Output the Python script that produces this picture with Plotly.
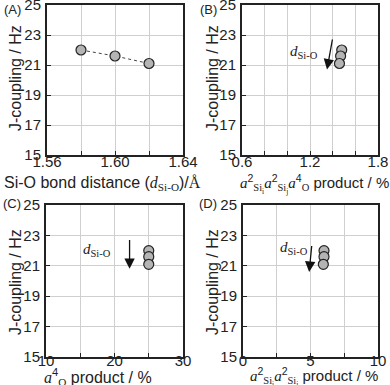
import plotly.graph_objects as go

# J-coupling values (Hz), same three structures in every panel
j_coupling = [22.0, 21.6, 21.1]
# (A) Si-O bond distance / Angstrom
bond_distance = [1.58, 1.60, 1.62]
# (B) a2Si_i a2Si_j a4O product / %
prod_b = [1.48, 1.47, 1.46]
# (C) a4O product / %
prod_c = [25.0, 25.0, 25.0]
# (D) a2Si_i a2Si_j product / %
prod_d = [6.0, 6.0, 5.95]

# arrows: (x_tail, y_tail, x_head, y_head) and label position
arrow_b = (1.40, 22.8, 1.35, 20.7)
arrow_c = (22.2, 22.8, 22.2, 20.8)
arrow_d = (5.1, 22.4, 4.9, 20.6)
label_b = (1.15, 21.85)
label_c = (17.4, 22.05)
label_d = (3.8, 22.2)

yticks = [15, 17, 19, 21, 23, 25]
xticks_a = [1.56, 1.58, 1.60, 1.62, 1.64]
xlabels_a = ["1.56", "", "1.60", "", "1.64"]
xticks_b = [0.6, 0.8, 1.0, 1.2, 1.4, 1.6, 1.8]
xlabels_b = ["0.6", "", "", "1.2", "", "", "1.8"]
xticks_c = [10, 15, 20, 25, 30]
xlabels_c = ["10", "", "20", "", "30"]
xticks_d = [0, 2.5, 5, 7.5, 10]
xlabels_d = ["0", "", "5", "", "10"]

W, H = 390, 385
FONT = "Liberation Sans"
SERIF = "Liberation Serif"
TXT = "#222"


def px_x(v):
    return v / W


def px_y(v):
    return 1 - v / H


marker = dict(size=10, color="#b4b4b4", line=dict(color="#222", width=1.2))

fig = go.Figure()
fig.add_trace(go.Scatter(x=bond_distance, y=j_coupling, mode="lines+markers",
                         line=dict(color="#444", width=1, dash="dot"),
                         marker=marker, xaxis="x", yaxis="y"))
fig.add_trace(go.Scatter(x=prod_b, y=j_coupling, mode="markers",
                         marker=marker, xaxis="x2", yaxis="y2"))
fig.add_trace(go.Scatter(x=prod_c, y=j_coupling, mode="markers",
                         marker=marker, xaxis="x3", yaxis="y3"))
fig.add_trace(go.Scatter(x=prod_d, y=j_coupling, mode="markers",
                         marker=marker, xaxis="x4", yaxis="y4"))

# panel boxes in page pixels: left, right, top, bottom, x-label standoff
boxes = [(47, 183, 5, 155, -8), (242, 378, 5, 155, -8),
         (46, 183, 205, 357, -11), (243, 378, 205, 357, -11)]
xsets = [(xticks_a, xlabels_a), (xticks_b, xlabels_b),
         (xticks_c, xlabels_c), (xticks_d, xlabels_d)]

axis_common = dict(showgrid=True, gridcolor="#cfcfcf", gridwidth=1,
                   showline=True, linecolor="#222", linewidth=2, mirror=True,
                   ticks="inside", ticklen=4, tickcolor="#222",
                   tickfont=dict(family=FONT, size=15, color=TXT),
                   ticklabeloverflow="allow",
                   zeroline=False, fixedrange=True, automargin=False)

layout = {}
for i, ((l, r, t, b, so), (tv, tt)) in enumerate(zip(boxes, xsets)):
    n = "" if i == 0 else str(i + 1)
    layout["xaxis" + n] = dict(axis_common, domain=[px_x(l), px_x(r)],
                               range=[tv[0], tv[-1]], tickvals=tv, ticktext=tt,
                               anchor="y" + n, ticklabelstandoff=so)
    layout["yaxis" + n] = dict(axis_common, domain=[px_y(b), px_y(t)],
                               range=[15, 25], tickvals=yticks,
                               anchor="x" + n, ticklabelstandoff=1)

fig.update_layout(**layout)

ann = []


def text(x, y, s, size=16, rot=0, family=FONT):
    ann.append(dict(x=px_x(x), y=px_y(y), xref="paper", yref="paper",
                    text=s, showarrow=False, textangle=rot,
                    font=dict(family=family, size=size, color=TXT),
                    xanchor="center", yanchor="middle"))


# panel labels
text(12, 9, "(A)", 13)
text(208, 9, "(B)", 13)
text(12, 204, "(C)", 13)
text(208, 204, "(D)", 13)

# y titles
for x, yc in [(15, 78), (212, 78), (15, 282), (212, 282)]:
    text(x, yc, "J-coupling / Hz", 16, rot=-90)

d_si = "<span style='font-family:%s'><i>d</i><sub>Si-O</sub></span>" % SERIF
a = "<span style='font-family:%s'><i>a</i></span>" % SERIF
si_i = "<span style='font-family:%s'>Si<sub>i</sub></span>" % SERIF
si_j = "<span style='font-family:%s'>Si<sub>j</sub></span>" % SERIF
o = "<span style='font-family:%s'>O</span>" % SERIF

text(102, 184, "Si-O bond distance (" + d_si + ")/" +
     "<span style='font-family:%s'>Å</span>" % SERIF, 16)
text(314, 184, a + "<sup>2</sup><sub>" + si_i + "</sub>" + a + "<sup>2</sup><sub>" +
     si_j + "</sub>" + a + "<sup>4</sup><sub>" + o + "</sub> product / %", 15)
text(98, 377, a + "<sup>4</sup><sub>" + o + "</sub> product / %", 16)
text(314, 377, a + "<sup>2</sup><sub>" + si_i + "</sub>" + a + "<sup>2</sup><sub>" +
     si_j + "</sub> product / %", 15)

# arrows and d_Si-O labels
for (xt, yt, xh, yh), (lx, ly), n in [(arrow_b, label_b, "2"), (arrow_c, label_c, "3"),
                                      (arrow_d, label_d, "4")]:
    ann.append(dict(x=xh, y=yh, ax=xt, ay=yt, xref="x" + n, yref="y" + n,
                    axref="x" + n, ayref="y" + n, showarrow=True, text="",
                    arrowhead=2, arrowsize=1.6, arrowwidth=1.3, arrowcolor="#111"))
    ann.append(dict(x=lx, y=ly, xref="x" + n, yref="y" + n, showarrow=False,
                    text="<i>d</i><sub>Si-O</sub>",
                    font=dict(family=SERIF, size=15, color=TXT)))

fig.update_layout(annotations=ann, width=W, height=H, showlegend=False,
                  margin=dict(l=0, r=0, t=0, b=0),
                  paper_bgcolor="white", plot_bgcolor="white")

# drop the default page margin so the figure sits at the window's corner
fig.write_html("out.html", config={"displayModeBar": False},
               post_script="document.body.style.margin='0';"
                           "document.body.style.overflow='hidden';")
